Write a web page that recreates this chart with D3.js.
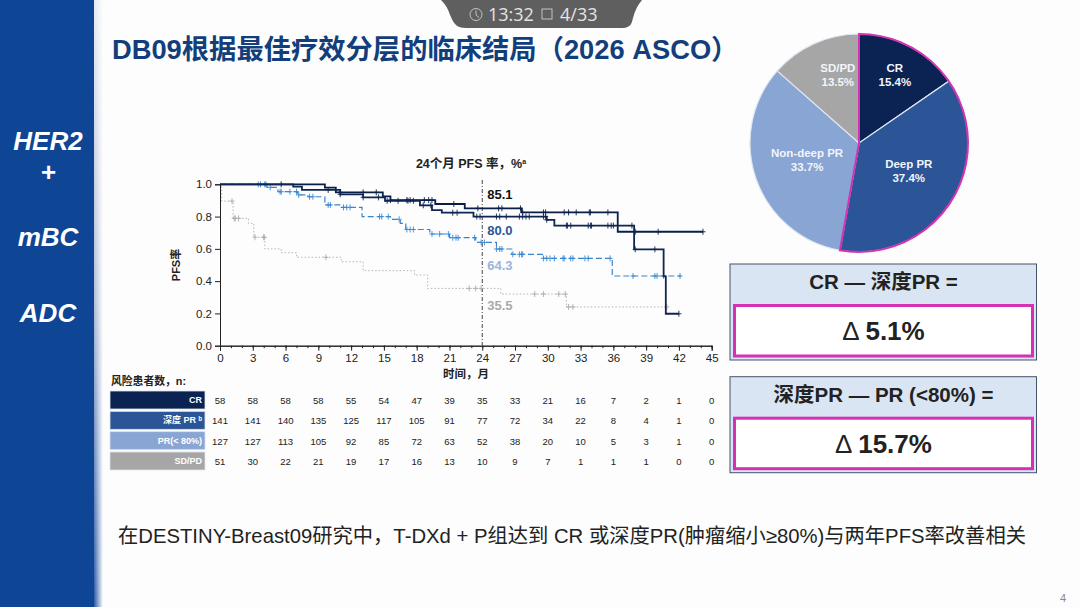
<!DOCTYPE html>
<meta charset='utf-8'>
<style>
  body { margin: 0; background: #fdfdfd; }
  text { font-family: 'Liberation Sans', 'Noto Sans CJK SC', sans-serif; }
</style>
<div id='chart'></div>
<script src='https://d3js.org/d3.v7.min.js'></script>
<script>

  // KM curves: month of each step and PFS after it
  var crMonths = [0, 9.6, 10.6, 14.9, 15.6, 19.7, 22.4, 27.6, 36.4, 44.2];
  var crPfs = [1, 0.98, 0.95, 0.925, 0.902, 0.878, 0.851, 0.826, 0.706, 0.706];
  var crCens = [5.6, 11, 13.1, 14.3, 15.6, 17.1, 17.4, 18.7, 19.1, 19.4, 21.4, 23.6, 25.5, 25.8, 27.5, 27.7, 29.6, 29.8, 31.5, 31.9, 32.6, 33.8, 33.9, 35.5, 38, 40.1, 44.2];

  var deepMonths = [0, 6.7, 7.5, 11, 13.1, 15.1, 18.3, 19.4, 20.3, 23.2, 29.9, 30.6, 37.9, 40.6, 40.8, 42];
  var deepPfs = [1, 0.985, 0.965, 0.938, 0.919, 0.898, 0.87, 0.84, 0.824, 0.8, 0.78, 0.744, 0.597, 0.43, 0.198, 0.198];
  var deepCens = [9.9, 11, 13.1, 14.5, 15.3, 16.3, 17.2, 17.7, 18.6, 19.3, 21.3, 21.7, 23.5, 23.8, 25.3, 25.6, 26.2, 27.4, 27.7, 28, 28.3, 29.6, 29.8, 29.9, 31.7, 31.8, 32.1, 33.7, 33.9, 34, 35.5, 35.8, 36, 37.7, 38, 39.8, 42];

  var prMonths = [0, 4.3, 5.3, 7.1, 8.05, 9.6, 11.1, 13, 15.6, 16.5, 17, 19.2, 21, 23.4, 25.3, 26.7, 29.6, 35.9, 42.2];
  var prPfs = [1, 0.981, 0.954, 0.934, 0.923, 0.872, 0.857, 0.8, 0.783, 0.758, 0.72, 0.692, 0.669, 0.64, 0.599, 0.566, 0.541, 0.432, 0.432];
  var prCens = [3.5, 3.7, 4.1, 4.2, 4.6, 5.5, 5.6, 6.4, 7, 7.2, 8.2, 8.5, 9.9, 10.1, 11.3, 11.6, 11.9, 14.6, 14.8, 15.4, 16.4, 17.1, 17.4, 17.7, 19.4, 20.1, 20.9, 21.3, 21.6, 21.8, 23.3, 23.9, 24.2, 25.3, 25.6, 25.8, 26.8, 27.4, 27.6, 27.7, 29.6, 29.9, 30.2, 30.6, 31.4, 31.5, 32.1, 32.3, 33.4, 33.7, 35.7, 37.8, 39.8, 40, 40.6, 42.1];

  var sdMonths = [0, 0.15, 1.2, 2.6, 3.1, 4.1, 5.6, 7, 11.1, 13.1, 17.8, 19, 25.7, 31.7, 40.9];
  var sdPfs = [1, 0.896, 0.789, 0.758, 0.672, 0.6, 0.576, 0.548, 0.52, 0.465, 0.438, 0.355, 0.32, 0.24, 0.24];
  var sdCens = [1.1, 1.3, 1.4, 1.7, 3.2, 4, 4.05, 9.7, 22.8, 23.4, 23.9, 28.8, 29.6, 31, 31.6, 31.9, 32.3, 40.9];

  // number at risk
  var riskMonths = d3.range(0, 46, 3);
  var riskNames = ['CR', '深度 PR ᵇ', 'PR(< 80%)', 'SD/PD'];
  var riskCR = [58, 58, 58, 58, 55, 54, 47, 39, 35, 33, 21, 16, 7, 2, 1, 0];
  var riskDeep = [141, 141, 140, 135, 125, 117, 105, 91, 77, 72, 34, 22, 8, 4, 1, 0];
  var riskPR = [127, 127, 113, 105, 92, 85, 72, 63, 52, 38, 20, 10, 5, 3, 1, 0];
  var riskSD = [51, 30, 22, 21, 19, 17, 16, 13, 10, 9, 7, 1, 1, 1, 0, 0];

  // 24 month labels
  var pfs24 = ['85.1', '80.0', '64.3', '35.5'];
  var pfs24Val = [0.909, 0.686, 0.469, 0.221]; // y of each label on the axis

  // pie
  var pieNames = ['CR', 'Deep PR', 'Non-deep PR', 'SD/PD'];
  var pieVals = [15.4, 37.4, 33.7, 13.5];

  var navy = '#0a2352', blue = '#2c5597', light = '#88a5d4', grey = '#a6a6a6', magenta = '#d531b5';

  var svg = d3.select('#chart').append('svg')
    .attr('width', 1080).attr('height', 607)
    .style('display', 'block');

  var defs = svg.append('defs');
  var g1 = defs.append('linearGradient').attr('id', 'stripeV').attr('x1', 0).attr('x2', 0).attr('y1', 0).attr('y2', 1);
  g1.append('stop').attr('offset', '0%').attr('stop-color', '#e6eaf2');
  g1.append('stop').attr('offset', '50%').attr('stop-color', '#aebcd8');
  g1.append('stop').attr('offset', '100%').attr('stop-color', '#2a5aa8');
  var g2 = defs.append('linearGradient').attr('id', 'stripeH');
  g2.append('stop').attr('offset', '0%').attr('stop-color', '#fdfdfd').attr('stop-opacity', 0);
  g2.append('stop').attr('offset', '100%').attr('stop-color', '#fdfdfd').attr('stop-opacity', 1);

  // side band
  svg.append('rect').attr('width', 94).attr('height', 607).attr('fill', '#0f4595');
  svg.append('rect').attr('x', 94).attr('width', 9).attr('height', 607).attr('fill', 'url(#stripeV)');
  svg.append('rect').attr('x', 94).attr('width', 9).attr('height', 607).attr('fill', 'url(#stripeH)');
  [['HER2', 150], ['+', 181], ['mBC', 246], ['ADC', 322]].forEach(function (d) {
    svg.append('text').attr('x', 48).attr('y', d[1]).attr('text-anchor', 'middle')
      .attr('fill', '#fff').attr('font-size', 26).attr('font-weight', 'bold').attr('font-style', 'italic')
      .text(d[0]);
  });

  // title
  svg.append('text').attr('x', 112).attr('y', 59)
    .attr('fill', '#123f7c').attr('font-size', 27.3).attr('font-weight', 'bold')
    .text('DB09根据最佳疗效分层的临床结局（2026 ASCO）');

  // player pill on top
  svg.append('path').attr('d', 'M441,0 C450,8 450,20 456,25 Q459,28 466,28 L622,28 Q630,28 632,22 C634,14 636,7 642,0 Z')
    .attr('fill', '#5f5f5f');
  svg.append('circle').attr('cx', 476).attr('cy', 14.5).attr('r', 6).attr('fill', 'none').attr('stroke', '#c4c4c4').attr('stroke-width', 1);
  svg.append('path').attr('d', 'M476,10.5 V15 L479,17.5').attr('fill', 'none').attr('stroke', '#c4c4c4').attr('stroke-width', 1);
  svg.append('text').attr('x', 488).attr('y', 21).attr('fill', '#e4e4e4').attr('font-size', 18).style('font-family', "'Open Sans', sans-serif").text('13:32');
  svg.append('rect').attr('x', 542).attr('y', 9).attr('width', 10).attr('height', 10).attr('fill', 'none').attr('stroke', '#c4c4c4').attr('stroke-width', 1);
  svg.append('text').attr('x', 560).attr('y', 21).attr('fill', '#e4e4e4').attr('font-size', 18).style('font-family', "'Open Sans', sans-serif").text('4/33');

  // KM plot
  var x = d3.scaleLinear().domain([0, 45]).range([220, 711.7]);
  var y = d3.scaleLinear().domain([0, 1]).range([345.7, 184.3]);

  var yAxis = svg.append('g').attr('transform', 'translate(220,0)')
    .call(d3.axisLeft(y).tickValues([0, 0.2, 0.4, 0.6, 0.8, 1]).tickFormat(d3.format('.1f')).tickSizeOuter(0).tickSize(5));
  var xMinor = svg.append('g').attr('transform', 'translate(0,345.7)')
    .call(d3.axisBottom(x).tickValues(d3.range(0, 46)).tickFormat('').tickSizeOuter(0).tickSize(2.5));
  var xAxis = svg.append('g').attr('transform', 'translate(0,345.7)')
    .call(d3.axisBottom(x).tickValues(riskMonths).tickFormat(d3.format('d')).tickSizeOuter(0).tickSize(5));
  [yAxis, xMinor, xAxis].forEach(function (a) {
    a.selectAll('path, line').attr('stroke', '#222');
    a.selectAll('text').attr('font-size', 11.5).attr('fill', '#222').style('font-family', "'Liberation Sans', sans-serif");
  });

  svg.append('text').attr('transform', 'translate(180,265) rotate(-90)').attr('text-anchor', 'middle')
    .attr('font-size', 11).attr('font-weight', 'bold').attr('fill', '#222').text('PFS率');
  svg.append('text').attr('x', 466).attr('y', 378).attr('text-anchor', 'middle')
    .attr('font-size', 11.5).attr('font-weight', 'bold').attr('fill', '#222').text('时间，月');
  var pfsTitle = svg.append('text').attr('x', 471).attr('y', 168).attr('text-anchor', 'middle')
    .attr('font-size', 12.5).attr('font-weight', 'bold').attr('fill', '#222').text('24个月 PFS 率，%');
  pfsTitle.append('tspan').attr('font-size', 7).attr('dy', -4).text('a');

  // vertical marker at 24 months
  svg.append('line').attr('x1', x(24)).attr('x2', x(24)).attr('y1', 180).attr('y2', 345)
    .attr('stroke', '#444').attr('stroke-width', 1).attr('stroke-dasharray', '4 2 1 2');

  var curves = [
    { m: sdMonths, s: sdPfs, c: sdCens, col: '#b4b4b4', w: 1, dash: '1.5 2', tick: '#adadad' },
    { m: prMonths, s: prPfs, c: prCens, col: '#3b84cc', w: 1.2, dash: '6 3', tick: '#3b8ad4' },
    { m: crMonths, s: crPfs, c: crCens, col: '#0a1f48', w: 1.8, dash: null, tick: '#0a1f48' },
    { m: deepMonths, s: deepPfs, c: deepCens, col: '#0f2552', w: 1.8, dash: null, tick: '#0f2552' }
  ];
  var stepLine = d3.line()
    .x(function (d) { return x(d[0]); })
    .y(function (d) { return y(d[1]); })
    .curve(d3.curveStepAfter);

  curves.forEach(function (k) {
    var pts = d3.zip(k.m, k.s);
    svg.append('path').attr('d', stepLine(pts)).attr('fill', 'none')
      .attr('stroke', k.col).attr('stroke-width', k.w).attr('stroke-dasharray', k.dash);
    // censor ticks sit on the step that is current at that month
    k.c.forEach(function (t) {
      var i = d3.bisectRight(k.m, t) - 1;
      var cx = x(t), cy = y(k.s[i]);
      svg.append('path').attr('d', 'M' + cx + ',' + (cy - 3) + 'V' + (cy + 3) + 'M' + (cx - 2.5) + ',' + cy + 'H' + (cx + 2.5))
        .attr('stroke', k.tick).attr('stroke-width', 0.9).attr('fill', 'none');
    });
  });

  var labelCols = ['#111', '#2c5597', '#9db4dc', '#aaa'];
  pfs24.forEach(function (t, i) {
    svg.append('text').attr('x', x(24) + 5).attr('y', y(pfs24Val[i]))
      .attr('font-size', 13).attr('font-weight', 'bold').attr('fill', labelCols[i]).text(t);
  });

  // risk table
  svg.append('text').attr('x', 111).attr('y', 385).attr('font-size', 10.8).attr('font-weight', 'bold').attr('fill', '#222').text('风险患者数，n:');
  var rowY = d3.scalePoint().domain(riskNames).range([400, 461]);
  var rowCols = [navy, blue, light, grey];
  [riskCR, riskDeep, riskPR, riskSD].forEach(function (row, i) {
    var cy = rowY(riskNames[i]);
    svg.append('rect').attr('x', 110).attr('y', cy - 9).attr('width', 95).attr('height', 18)
      .attr('fill', rowCols[i]).attr('stroke', '#dde3ee').attr('stroke-width', 0.8);
    svg.append('text').attr('x', 202).attr('y', cy + 3).attr('text-anchor', 'end')
      .attr('fill', '#fff').attr('font-size', 9).attr('font-weight', 'bold').text(riskNames[i]);
    svg.selectAll('.r' + i).data(row).enter().append('text')
      .attr('x', function (d, j) { return x(riskMonths[j]); })
      .attr('y', cy + 4).attr('text-anchor', 'middle')
      .attr('font-size', 9.5).attr('fill', '#222').text(function (d) { return d; });
  });

  // pie
  var pieG = svg.append('g').attr('transform', 'translate(859,143)');
  var arcs = d3.pie().sort(null)(pieVals);
  var arc = d3.arc().innerRadius(0).outerRadius(109);
  var pieCols = [navy, blue, light, grey];
  pieG.selectAll('path.slice').data(arcs).enter().append('path')
    .attr('class', 'slice').attr('d', arc)
    .attr('fill', function (d, i) { return pieCols[i]; })
    .attr('stroke', '#dfe6f2').attr('stroke-width', 1.2);
  // magenta outline around CR + Deep PR
  pieG.append('path')
    .attr('d', arc({ startAngle: arcs[0].startAngle, endAngle: arcs[1].endAngle }))
    .attr('fill', 'none').attr('stroke', magenta).attr('stroke-width', 2);
  var pieLabelR = [77, 58, 55, 71];
  var pieLabelNudge = [[0, 0], [1, -3], [0, -1], [8, -3]];
  arcs.forEach(function (d, i) {
    var c = d3.arc().innerRadius(pieLabelR[i]).outerRadius(pieLabelR[i]).centroid(d);
    var lx = c[0] + pieLabelNudge[i][0], ly = c[1] + pieLabelNudge[i][1];
    var t = pieG.append('text').attr('text-anchor', 'middle').attr('fill', '#f2f5fb')
      .attr('font-size', 11.5).attr('font-weight', 'bold');
    t.append('tspan').attr('x', lx).attr('y', ly - 3).text(pieNames[i]);
    t.append('tspan').attr('x', lx).attr('y', ly + 11).text(pieVals[i].toFixed(1) + '%');
  });

  // delta boxes
  var boxTitles = ['CR — 深度PR =', '深度PR — PR (<80%) ='];
  var boxDeltas = ['5.1%', '15.7%'];
  boxTitles.forEach(function (t, i) {
    var top = i == 0 ? 264 : 376.7;
    svg.append('rect').attr('x', 730).attr('y', top).attr('width', 306.5).attr('height', 96)
      .attr('fill', '#dae5f3').attr('stroke', '#44546a').attr('stroke-width', 1);
    svg.append('rect').attr('x', 734.5).attr('y', top + 41.5).attr('width', 298).attr('height', 50.5)
      .attr('fill', '#fff').attr('stroke', magenta).attr('stroke-width', 3);
    svg.append('text').attr('x', 883.5).attr('y', top + 25).attr('text-anchor', 'middle')
      .attr('font-size', 20.5).attr('font-weight', 'bold').attr('fill', '#222').text(t);
    var dt = svg.append('text').attr('x', 883.5).attr('y', top + 76).attr('text-anchor', 'middle')
      .attr('font-size', 26).attr('font-weight', 'bold').attr('fill', '#222');
    dt.append('tspan').attr('font-weight', 'normal').attr('font-size', 26).text('Δ ');
    dt.append('tspan').text(boxDeltas[i]);
  });

  // footer
  svg.append('text').attr('x', 118).attr('y', 543).attr('font-size', 20.3).attr('fill', '#222')
    .text('在DESTINY-Breast09研究中，T-DXd + P组达到 CR 或深度PR(肿瘤缩小≥80%)与两年PFS率改善相关');
  svg.append('text').attr('x', 1063).attr('y', 602).attr('text-anchor', 'middle').attr('font-size', 11).attr('fill', '#888').text('4');

</script>
